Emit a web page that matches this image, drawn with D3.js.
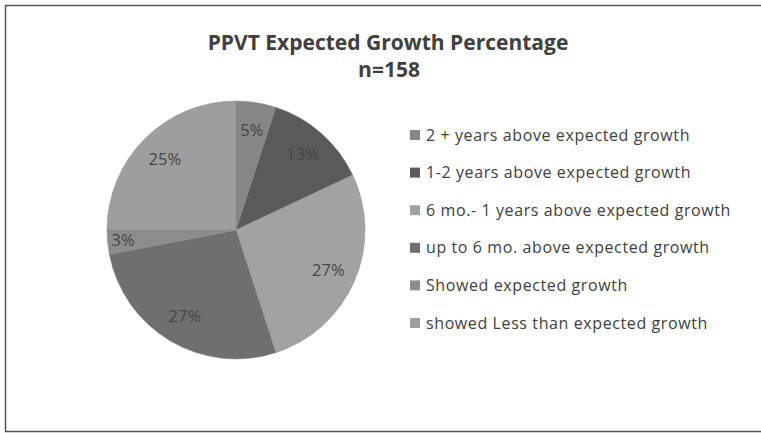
<!DOCTYPE html>
<html>
<head>
<meta charset="utf-8">
<script src="https://cdn.jsdelivr.net/npm/d3@7"></script>
<style>
  body { margin: 0; background: #fff; }
  svg { display: block; font-family: "Open Sans", "Noto Sans", sans-serif; }
</style>
</head>
<body>
<div class="chart"></div>
<script>
const categories = [
    '2 + years above expected growth',
    '1-2 years above expected growth',
    '6 mo.- 1 years above expected growth',
    'up to 6 mo. above expected growth',
    'Showed expected growth',
    'showed Less than expected growth'
]
const values = [5, 13, 27, 27, 3, 25]
const labels = ['5%', '13%', '27%', '27%', '3%', '25%']
const colors = ['#868686', '#5a5a5a', '#a2a2a2', '#6f6f6f', '#8c8c8c', '#9e9e9e']

const width = 761
const height = 433
const cx = 236
const cy = 230
const radius = 129

const svg = d3.select('.chart')
    .append('svg')
    .attr('width', width)
    .attr('height', height)

// frame (right edge runs off the picture)
svg.append('rect')
    .attr('x', 5.5).attr('y', 5.5)
    .attr('width', 780).attr('height', 426)
    .attr('fill', 'none')
    .attr('stroke', '#555')
    .attr('stroke-width', 1.5)

// title
svg.append('text')
    .attr('x', 388).attr('y', 50)
    .attr('text-anchor', 'middle')
    .attr('font-weight', 'bold')
    .attr('font-size', 21)
    .attr('fill', '#404040')
    .text('PPVT Expected Growth Percentage')
svg.append('text')
    .attr('x', 389).attr('y', 77)
    .attr('text-anchor', 'middle')
    .attr('font-weight', 'bold')
    .attr('font-size', 21)
    .attr('fill', '#404040')
    .text('n=158')

const pie = d3.pie().sort(null).value(d => d)
const arcs = pie(values)
const arc = d3.arc().innerRadius(0).outerRadius(radius)
const labelArc = d3.arc().innerRadius(radius * 0.78).outerRadius(radius * 0.78)
const outerLabelArc = d3.arc().innerRadius(radius * 0.88).outerRadius(radius * 0.88)

const g = svg.append('g').attr('transform', `translate(${cx},${cy})`)

g.selectAll('path')
    .data(arcs)
    .enter()
    .append('path')
    .attr('d', arc)
    .attr('fill', (d, i) => colors[i])
    .attr('stroke', '#8a8a8a')
    .attr('stroke-width', 0.5)

g.selectAll('.lbl')
    .data(arcs)
    .enter()
    .append('text')
    .attr('class', 'lbl')
    .attr('transform', d => `translate(${(d.value < 5 ? outerLabelArc : labelArc).centroid(d)})`)
    .attr('text-anchor', 'middle')
    .attr('dy', '0.35em')
    .attr('font-size', 16.5)
    .attr('fill', '#454545')
    .text((d, i) => labels[i])

// legend
const legendY = d3.scalePoint()
    .domain(categories)
    .range([135, 323])

const legend = svg.selectAll('.legend')
    .data(categories)
    .enter()
    .append('g')
    .attr('class', 'legend')
    .attr('transform', d => `translate(410,${legendY(d)})`)

legend.append('rect')
    .attr('x', 0).attr('y', -5)
    .attr('width', 10).attr('height', 10)
    .attr('fill', (d, i) => colors[i])

legend.append('text')
    .attr('x', 16)
    .attr('dy', '0.35em')
    .attr('font-size', 16)
    .attr('letter-spacing', 0.6)
    .attr('fill', '#404040')
    .text(d => d)
</script>
</body>
</html>
